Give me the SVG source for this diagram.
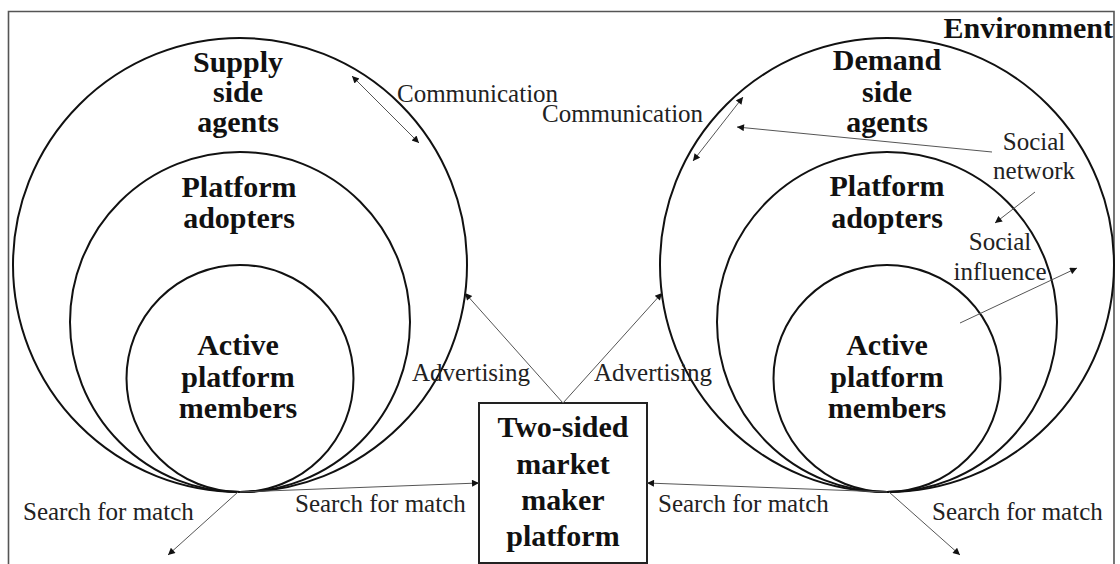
<svg xmlns="http://www.w3.org/2000/svg" width="1120" height="564" viewBox="0 0 1120 564">
  <style>
    .ring { fill: none; stroke: #111; stroke-width: 2; }
    .frame { fill: none; stroke: #555; stroke-width: 1.6; }
    .box { fill: #fff; stroke: #222; stroke-width: 2; }
    .head { font-family: "Liberation Serif", "Times New Roman", serif; font-weight: bold; font-size: 30px; fill: #111; text-anchor: middle; }
    .lbl { font-family: "Liberation Serif", "Times New Roman", serif; font-size: 25px; fill: #222; }
    .link { stroke: #555; stroke-width: 1; fill: none; }
  </style>
  <defs>
    <marker id="arrow" viewBox="0 0 10 10" refX="10" refY="5" markerWidth="9" markerHeight="7" markerUnits="userSpaceOnUse" orient="auto-start-reverse">
      <path d="M0,0 L10,5 L0,10 Z" fill="#111"/>
    </marker>
  </defs>

  <rect width="1120" height="564" fill="#fff"/>

  <!-- environment frame (open at the bottom) -->
  <g id="environment">
    <path class="frame" d="M8.5,570 V11.5 H1114 V570"/>
    <text class="head" x="1113" y="38" style="text-anchor:end">Environment</text>
  </g>

  <!-- supply side rings -->
  <g id="supply-agents">
    <circle class="ring" cx="240" cy="265" r="227"/>
    <text class="head" x="238" y="72">Supply</text>
    <text class="head" x="238" y="102">side</text>
    <text class="head" x="238" y="132">agents</text>
  </g>
  <g id="supply-adopters">
    <circle class="ring" cx="240" cy="322" r="170"/>
    <text class="head" x="239" y="197">Platform</text>
    <text class="head" x="239" y="228">adopters</text>
  </g>
  <g id="supply-members">
    <circle class="ring" cx="240" cy="378.5" r="113.5"/>
    <text class="head" x="238" y="355">Active</text>
    <text class="head" x="238" y="387">platform</text>
    <text class="head" x="238" y="418">members</text>
  </g>

  <!-- demand side rings -->
  <g id="demand-agents">
    <circle class="ring" cx="887" cy="265" r="227"/>
    <text class="head" x="887" y="70">Demand</text>
    <text class="head" x="887" y="102">side</text>
    <text class="head" x="887" y="132">agents</text>
  </g>
  <g id="demand-adopters">
    <circle class="ring" cx="887" cy="322" r="170"/>
    <text class="head" x="887" y="196">Platform</text>
    <text class="head" x="887" y="228">adopters</text>
  </g>
  <g id="demand-members">
    <circle class="ring" cx="887" cy="378.5" r="113.5"/>
    <text class="head" x="887" y="355">Active</text>
    <text class="head" x="887" y="387">platform</text>
    <text class="head" x="887" y="418">members</text>
  </g>

  <!-- platform box -->
  <g id="platform">
    <rect class="box" x="479" y="403" width="168" height="160"/>
    <text class="head" x="563" y="437">Two-sided</text>
    <text class="head" x="563" y="474">market</text>
    <text class="head" x="563" y="510">maker</text>
    <text class="head" x="563" y="546">platform</text>
  </g>

  <!-- connectors -->
  <g id="connectors">
    <line class="link" x1="352" y1="76" x2="419" y2="143" marker-start="url(#arrow)" marker-end="url(#arrow)"/>
    <line class="link" x1="743" y1="97" x2="693" y2="161" marker-start="url(#arrow)" marker-end="url(#arrow)"/>
    <line class="link" x1="992" y1="152" x2="737" y2="127" marker-end="url(#arrow)"/>
    <line class="link" x1="1035" y1="192" x2="995" y2="223" marker-end="url(#arrow)"/>
    <line class="link" x1="960" y1="323" x2="1077" y2="268" marker-end="url(#arrow)"/>
    <line class="link" x1="563" y1="403" x2="465" y2="293" marker-end="url(#arrow)"/>
    <line class="link" x1="563" y1="403" x2="662" y2="293" marker-end="url(#arrow)"/>
    <line class="link" x1="240" y1="492" x2="479" y2="483" marker-end="url(#arrow)"/>
    <line class="link" x1="887" y1="492" x2="647" y2="483" marker-end="url(#arrow)"/>
    <line class="link" x1="238" y1="492" x2="168" y2="555" marker-end="url(#arrow)"/>
    <line class="link" x1="889" y1="492" x2="960" y2="555" marker-end="url(#arrow)"/>
  </g>

  <!-- connector labels -->
  <g id="labels">
    <text class="lbl" x="397" y="102">Communication</text>
    <text class="lbl" x="542" y="122">Communication</text>
    <text class="lbl" x="1034" y="150" text-anchor="middle">Social</text>
    <text class="lbl" x="1034" y="179" text-anchor="middle">network</text>
    <text class="lbl" x="1000" y="250" text-anchor="middle">Social</text>
    <text class="lbl" x="1000" y="280" text-anchor="middle">influence</text>
    <text class="lbl" x="412" y="381">Advertising</text>
    <text class="lbl" x="594" y="381">Advertising</text>
    <text class="lbl" x="23" y="520">Search for match</text>
    <text class="lbl" x="295" y="512">Search for match</text>
    <text class="lbl" x="658" y="512">Search for match</text>
    <text class="lbl" x="932" y="520">Search for match</text>
  </g>
</svg>
